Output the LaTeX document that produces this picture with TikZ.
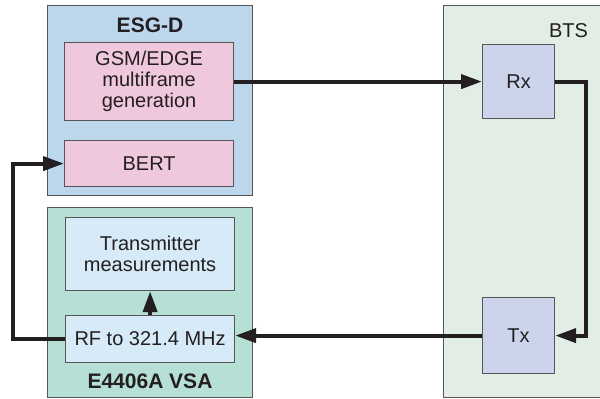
\documentclass[tikz,border=0pt]{standalone}
\usepackage{fontspec}
\setmainfont{Liberation Sans}
\usepackage{tikz}
\usetikzlibrary{calc,arrows.meta}
\definecolor{esgblue}{RGB}{188,214,236}
\definecolor{modpink}{RGB}{240,200,222}
\definecolor{vsateal}{RGB}{182,223,213}
\definecolor{measblue}{RGB}{214,234,247}
\definecolor{btsgreen}{RGB}{226,237,229}
\definecolor{rxblue}{RGB}{204,212,236}
\definecolor{edge}{RGB}{85,85,85}
\definecolor{ink}{RGB}{35,31,32}
\tikzstyle{unit}=[rectangle, draw=edge, line width=0.6pt, inner sep=0pt, anchor=north west]
\tikzstyle{block}=[unit, align=center, text=ink, font=\fontsize{10}{10.6}\selectfont]
\tikzstyle{title}=[text=ink, font=\fontsize{10.5}{12}\selectfont\bfseries]
\tikzstyle{flow}=[line width=2pt, ink, -{Triangle[length=10.5pt,width=7pt]}]
\newcommand{\bw}{84.5pt}
\newcommand{\xw}{36pt}
\newcommand{\xh}{38pt}

\begin{document}
\begin{tikzpicture}[x=0.5pt,y=-0.5pt]
        \useasboundingbox (0,0) rectangle (600,398);
        % instruments
        \node[unit, fill=esgblue, minimum width=102.5pt, minimum height=95pt] (esg) at (47,5) {};
        \node[unit, fill=vsateal, minimum width=102.5pt, minimum height=95pt] (vsa) at (47,207) {};
        \node[unit, fill=btsgreen, minimum width=80pt, minimum height=196pt] (bts) at (443,5) {};
        \node[title] (esgT) at (150,25) {ESG-D};
        \node[title] (vsaT) at (150,381) {E4406A VSA};
        \node[text=ink, font=\fontsize{10}{12}\selectfont, anchor=east] (btsT) at (595,31) {BTS};
        % blocks
        \node[block, fill=modpink, minimum width=\bw, minimum height=39pt] (gsm) at (64,42) {GSM/EDGE\\multiframe\\generation};
        \node[block, fill=modpink, minimum width=\bw, minimum height=23pt] (bert) at (64,140) {BERT};
        \node[block, fill=measblue, minimum width=\bw, minimum height=36.5pt] (meas) at (65,217) {Transmitter\\measurements};
        \node[block, fill=measblue, minimum width=\bw, minimum height=23.5pt] (rf) at (65,315) {RF to 321.4 MHz};
        \node[block, fill=rxblue, minimum width=\xw, minimum height=37pt] (rx) at (482,44) {Rx};
        \node[block, fill=rxblue, minimum width=\xw, minimum height=\xh] (tx) at (482,297) {Tx};
        % signal path
        \draw[flow] (gsm.east) -- (gsm.east -| rx.west);
        \draw[flow] (rx.east) -- ++(31,0) |- (tx.east);
        \draw[flow] (tx.west) -- (tx.west -| rf.east);
        \draw[flow] (rf.west) -- ++(-52,0) |- (bert.west);
        \draw[flow] (rf.north) -- (meas.south);
\end{tikzpicture}
\end{document}
